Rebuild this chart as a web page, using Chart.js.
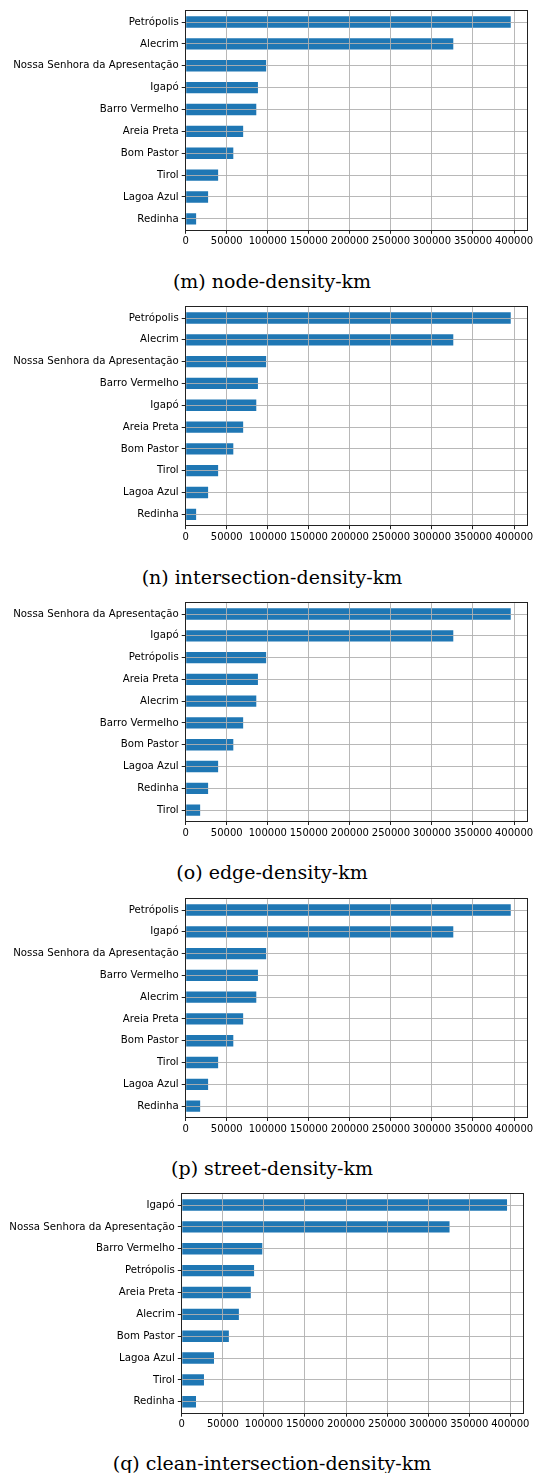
<!DOCTYPE html>
<html>
<head>
<meta charset="utf-8">
<script src="https://cdn.jsdelivr.net/npm/chart.js@4.4.1/dist/chart.umd.min.js"></script>
<style>
  html, body { margin: 0; padding: 0; background: #fff; }
  body { width: 542px; height: 1473px; position: relative; overflow: hidden; }
  .panel { position: absolute; left: 0; }
  .cap { position: absolute; left: 0; width: 544px; text-align: center; font-family: "DejaVu Serif", serif; font-size: 19px; color: #000; white-space: nowrap; }
</style>
</head>
<body>
<script>
// ---- data (top-to-bottom order in each panel) ----
const nodeDensityCats = ["Petrópolis","Alecrim","Nossa Senhora da Apresentação","Igapó","Barro Vermelho","Areia Preta","Bom Pastor","Tirol","Lagoa Azul","Redinha"];
const nodeDensityVals = [396000, 326000, 98000, 88000, 86000, 70000, 58000, 39500, 27300, 12700];

const intersectionDensityCats = ["Petrópolis","Alecrim","Nossa Senhora da Apresentação","Barro Vermelho","Igapó","Areia Preta","Bom Pastor","Tirol","Lagoa Azul","Redinha"];
const intersectionDensityVals = [396000, 326000, 98000, 88000, 86000, 70000, 58000, 39500, 27300, 12700];

const edgeDensityCats = ["Nossa Senhora da Apresentação","Igapó","Petrópolis","Areia Preta","Alecrim","Barro Vermelho","Bom Pastor","Lagoa Azul","Redinha","Tirol"];
const edgeDensityVals = [396000, 326000, 98000, 88000, 86000, 70000, 58000, 39500, 27300, 17600];

const streetDensityCats = ["Petrópolis","Igapó","Nossa Senhora da Apresentação","Barro Vermelho","Alecrim","Areia Preta","Bom Pastor","Tirol","Lagoa Azul","Redinha"];
const streetDensityVals = [396000, 326000, 98000, 88000, 86000, 70000, 58000, 39500, 27300, 17600];

const cleanIntersectionDensityCats = ["Igapó","Nossa Senhora da Apresentação","Barro Vermelho","Petrópolis","Areia Preta","Alecrim","Bom Pastor","Lagoa Azul","Tirol","Redinha"];
const cleanIntersectionDensityVals = [396000, 326000, 98000, 88000, 84000, 69500, 57300, 39200, 27000, 17300];

const xTickValues = [0, 50000, 100000, 150000, 200000, 250000, 300000, 350000, 400000];

const captions = ["(m) node-density-km", "(n) intersection-density-km", "(o) edge-density-km", "(p) street-density-km", "(q) clean-intersection-density-km"];

// ---- layout (plot areas in page pixels) ----
const panels = [
  { cats: nodeDensityCats, vals: nodeDensityVals, left: 185.7, right: 527, top: 7.5, bottom: 229.3, capY: 280.5 },
  { cats: intersectionDensityCats, vals: intersectionDensityVals, left: 185.7, right: 527, top: 304.3, bottom: 525.5, capY: 576.5 },
  { cats: edgeDensityCats, vals: edgeDensityVals, left: 185.7, right: 527, top: 600, bottom: 821, capY: 872 },
  { cats: streetDensityCats, vals: streetDensityVals, left: 185.7, right: 527, top: 896, bottom: 1117, capY: 1167.5 },
  { cats: cleanIntersectionDensityCats, vals: cleanIntersectionDensityVals, left: 181.8, right: 523.3, top: 1191, bottom: 1412.7, capY: 1463 }
];

const boxPlugin = {
  id: 'box',
  afterDraw(chart) {
    const a = chart.chartArea, ctx = chart.ctx;
    ctx.save();
    ctx.strokeStyle = '#222';
    ctx.lineWidth = 1;
    ctx.strokeRect(Math.round(a.left) - 0.5, Math.round(a.top) - 0.5, Math.round(a.right) - Math.round(a.left) + 1, Math.round(a.bottom) - Math.round(a.top) + 1);
    ctx.restore();
  }
};

const PADTOP = 6, XH = 32;
panels.forEach((p, i) => {
  const h = (p.bottom - p.top) + PADTOP + XH;
  const canvas = document.createElement('canvas');
  canvas.className = 'panel';
  canvas.width = 542; canvas.height = Math.ceil(h);
  canvas.style.width = '542px'; canvas.style.height = Math.ceil(h) + 'px';
  canvas.style.top = (p.top - PADTOP) + 'px';
  document.body.appendChild(canvas);
  const xmax = p.vals[0] * 1.05;
  new Chart(canvas.getContext('2d'), {
    type: 'bar',
    data: {
      labels: p.cats,
      datasets: [{ data: p.vals, backgroundColor: '#1f77b4', borderWidth: 0, barPercentage: 0.52, categoryPercentage: 1.0 }]
    },
    options: {
      indexAxis: 'y',
      animation: false,
      responsive: false,
      devicePixelRatio: 1,
      layout: { padding: { top: PADTOP, left: 0, right: 542 - p.right, bottom: Math.ceil(h) - h } },
      plugins: { legend: { display: false }, tooltip: { enabled: false } },
      scales: {
        x: {
          type: 'linear', min: 0, max: xmax,
          afterFit(s) { s.height = XH; },
          afterBuildTicks(s) { s.ticks = xTickValues.map(v => ({ value: v })); },
          grid: { z: 1, color: 'rgba(176,176,176,0.9)', lineWidth: 1, drawTicks: true, tickLength: 4, tickColor: '#222', tickWidth: 1 },
          border: { display: false },
          ticks: { color: '#000', font: { family: 'DejaVu Sans', size: 10 }, padding: 2, maxRotation: 0, autoSkip: false, callback: v => String(v) }
        },
        y: {
          type: 'category', offset: true,
          afterFit(s) { s.width = p.left; },
          grid: { z: 1, offset: false, color: 'rgba(176,176,176,0.9)', lineWidth: 1, drawTicks: true, tickLength: 4, tickColor: '#222', tickWidth: 1 },
          border: { display: false },
          ticks: { color: '#000', font: { family: 'DejaVu Sans', size: 10.2 }, padding: 3, autoSkip: false }
        }
      }
    },
    plugins: [boxPlugin]
  });
  const cap = document.createElement('div');
  cap.className = 'cap';
  cap.textContent = captions[i];
  cap.style.top = (p.capY - 14) + 'px';
  cap.style.lineHeight = '28px';
  document.body.appendChild(cap);
});
</script>
</body>
</html>
